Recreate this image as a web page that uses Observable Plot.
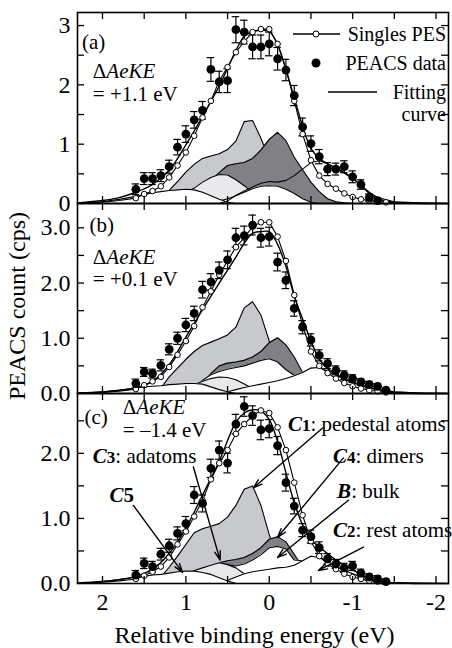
<!DOCTYPE html>
<html><head><meta charset="utf-8">
<script src="https://cdn.jsdelivr.net/npm/d3@7"></script>
<script src="https://cdn.jsdelivr.net/npm/@observablehq/plot@0.6"></script>
<style>
body{margin:0;background:#fff;}
#chart{position:relative;width:452px;height:648px;overflow:hidden;font-family:"Liberation Serif","Tinos","Times New Roman","DejaVu Serif",serif;color:#000;}
#chart svg{position:absolute;left:0;}
#ylab{position:absolute;left:17px;top:306px;transform:translate(-50%,-50%) rotate(-90deg);font-size:24px;white-space:nowrap;z-index:5;}
</style></head><body><div id="chart"><div id="ylab">PEACS count (cps)</div></div>
<script>
// ---------- shared x grids ----------
const dataX = [1.6,1.5,1.4,1.3,1.2,1.1,1.0,0.9,0.8,0.7,0.6,0.5,0.4,0.3,0.2,0.1,0.0,-0.1,-0.2,-0.3,-0.4,-0.5,-0.6,-0.7,-0.8,-0.9,-1.0,-1.1,-1.2,-1.3,-1.4];
const compX = [2.3,2.0,1.8,1.6,1.5,1.4,1.3,1.2,1.1,1.0,0.9,0.8,0.7,0.6,0.5,0.4,0.3,0.2,0.1,0.0,-0.1,-0.2,-0.3,-0.4,-0.5,-0.6,-0.7,-0.8,-0.9,-1.0,-1.1,-1.2,-1.3,-1.5,-1.8,-2.15];
const fitX = [2.3,2.0,1.8,1.6,1.4,1.2,1.0,0.8,0.6,0.4,0.3,0.2,0.1,0.0,-0.1,-0.2,-0.3,-0.4,-0.5,-0.6,-0.7,-0.8,-0.9,-1.0,-1.1,-1.2,-1.3,-1.5,-1.8,-2.15];
const tailLX = [2.3,2.0,1.8];
const tailRX = [-1.6,-2.15];
const xTickVals = [2,1,0,-1,-2];
const xMinor = [2,1.5,1,0.5,0,-0.5,-1,-1.5,-2];

// ---------- panel (a) ----------
const aPeacs = [0.24,0.42,0.42,0.47,0.62,0.95,1.17,1.41,1.57,2.26,2.05,2.07,2.93,2.89,2.64,2.64,2.69,2.44,2.25,1.82,1.29,1.01,0.79,0.58,0.58,0.62,0.45,0.32,0.10,0.05,null];
const aErr   = [0.09,0.10,0.10,0.10,0.11,0.13,0.14,0.14,0.15,0.20,0.18,0.20,0.22,0.20,0.20,0.20,0.20,0.19,0.18,0.17,0.15,0.13,0.12,0.11,0.10,0.10,0.10,0.08,0.06,0.05,null];
const aSingles = [0.09,0.16,0.21,0.29,0.44,0.64,0.86,1.14,1.45,1.73,2.07,2.30,2.55,2.73,2.89,2.94,2.94,2.69,2.27,1.73,1.17,0.73,0.47,0.33,0.25,0.17,0.11,0.07,0.05,0.03,0.02];
const aSinglesTailL = [0.0,0.02,0.05];
const aSinglesTailR = [0.01,0.0];
const aFit = [0.01,0.05,0.10,0.19,0.32,0.56,0.99,1.47,1.98,2.58,2.82,2.90,2.92,2.90,2.68,2.26,1.78,1.30,0.93,0.76,0.67,0.60,0.52,0.43,0.30,0.17,0.08,0.02,0.0,0.0];
const aC1 = [0,0,0,0.01,0.02,0.04,0.10,0.22,0.37,0.53,0.66,0.76,0.80,0.84,0.91,1.05,1.38,1.40,1.10,0.75,0.45,0.25,0.12,0.05,0.02,0,0,0,0,0,0,0,0,0,0,0];
const aC4 = [0,0,0,0,0,0,0,0.02,0.05,0.10,0.18,0.28,0.40,0.52,0.64,0.67,0.69,0.76,0.90,1.08,1.20,1.06,0.78,0.57,0.36,0.20,0.08,0.03,0.01,0,0,0,0,0,0,0];
const aB  = [0,0,0,0,0,0,0,0,0,0,0,0,0.01,0.04,0.08,0.13,0.19,0.25,0.29,0.30,0.29,0.24,0.17,0.08,0.02,0,0,0,0,0,0,0,0,0,0,0];
const aC3 = [0,0,0,0,0,0.01,0.03,0.06,0.11,0.18,0.26,0.36,0.44,0.49,0.48,0.40,0.30,0.18,0.06,0.01,0,0,0,0,0,0,0,0,0,0,0,0,0,0,0,0];
const aC5 = [0,0.03,0.07,0.12,0.15,0.18,0.20,0.22,0.23,0.24,0.23,0.19,0.13,0.07,0.02,0,0,0,0,0,0,0,0,0,0,0,0,0,0,0,0,0,0,0,0,0];
const aC2 = [0,0,0,0,0,0,0,0,0,0,0,0,0,0,0.04,0.14,0.21,0.28,0.34,0.37,0.36,0.39,0.47,0.58,0.69,0.72,0.67,0.59,0.51,0.42,0.31,0.19,0.10,0.03,0.01,0];

// ---------- panel (b) ----------
const bPeacs = [0.18,0.39,0.36,0.51,0.80,1.00,1.24,1.45,1.88,2.02,2.23,2.42,2.82,2.86,3.05,2.82,2.84,2.38,2.05,1.54,1.20,0.97,0.69,0.54,0.42,0.33,0.27,0.21,0.16,0.13,0.06];
const bErr   = [0.08,0.08,0.08,0.10,0.10,0.11,0.12,0.13,0.15,0.15,0.15,0.16,0.17,0.17,0.18,0.17,0.17,0.16,0.15,0.14,0.12,0.11,0.10,0.09,0.08,0.08,0.07,0.06,0.06,0.05,0.04];
const bSingles = [0.08,0.15,0.22,0.30,0.48,0.70,0.95,1.22,1.56,1.85,2.15,2.40,2.65,2.82,3.02,3.10,3.10,2.84,2.40,1.78,1.24,0.76,0.50,0.37,0.27,0.19,0.13,0.09,0.06,0.04,0.02];
const bSinglesTailL = [0.0,0.02,0.04];
const bSinglesTailR = [0.01,0.0];
const bFit = [0.01,0.03,0.06,0.10,0.22,0.52,1.02,1.52,2.00,2.47,2.72,2.90,2.93,2.93,2.70,2.30,1.76,1.35,0.95,0.62,0.45,0.35,0.27,0.20,0.15,0.11,0.07,0.02,0.0,0.0];
const bC1 = [0,0,0,0,0.01,0.04,0.10,0.30,0.46,0.62,0.76,0.87,0.93,0.99,1.06,1.20,1.55,1.66,1.42,0.95,0.55,0.28,0.12,0.04,0.01,0,0,0,0,0,0,0,0,0,0,0];
const bC4 = [0,0,0,0,0,0,0,0,0.01,0.04,0.10,0.20,0.36,0.50,0.55,0.57,0.60,0.66,0.76,0.92,1.01,0.88,0.66,0.38,0.15,0.04,0,0,0,0,0,0,0,0,0,0];
const bB  = [0,0,0,0,0,0,0,0,0,0.02,0.10,0.24,0.34,0.40,0.44,0.47,0.50,0.55,0.60,0.63,0.57,0.43,0.33,0.38,0.46,0.47,0.40,0.33,0.26,0.20,0.14,0.10,0.07,0.03,0.01,0];
const bC3 = [0,0,0,0,0,0,0,0.02,0.05,0.10,0.16,0.22,0.27,0.30,0.29,0.25,0.17,0.09,0.03,0,0,0,0,0,0,0,0,0,0,0,0,0,0,0,0,0];
const bC5 = [0,0.03,0.06,0.10,0.12,0.13,0.14,0.16,0.17,0.18,0.18,0.17,0.12,0.07,0.03,0,0,0,0,0,0,0,0,0,0,0,0,0,0,0,0,0,0,0,0,0];
const bC2 = [0,0,0,0,0,0,0,0,0,0,0,0,0,0.01,0.03,0.07,0.11,0.14,0.17,0.20,0.23,0.27,0.32,0.38,0.46,0.47,0.40,0.33,0.26,0.20,0.14,0.10,0.07,0.03,0.01,0];

// ---------- panel (c) ----------
const cPeacs = [0.13,0.31,0.26,0.45,0.58,0.77,0.92,1.36,1.23,1.77,2.05,1.85,2.45,2.72,2.58,2.36,2.38,2.12,1.55,1.19,0.82,0.72,0.55,0.38,0.30,0.24,0.27,0.16,0.10,0.07,0.03];
const cErr   = [0.07,0.08,0.08,0.09,0.10,0.10,0.11,0.13,0.13,0.14,0.14,0.15,0.15,0.15,0.15,0.15,0.14,0.14,0.13,0.12,0.10,0.10,0.09,0.08,0.07,0.07,0.07,0.06,0.05,0.05,0.04];
const cSingles = [0.07,0.12,0.18,0.26,0.40,0.60,0.80,1.03,1.28,1.60,1.85,2.05,2.30,2.45,2.58,2.66,2.62,2.40,2.05,1.55,1.05,0.65,0.42,0.30,0.22,0.15,0.10,0.07,0.04,0.03,0.02];
const cSinglesTailL = [0.0,0.02,0.04];
const cSinglesTailR = [0.01,0.0];
const cFit = [0.01,0.03,0.06,0.11,0.22,0.46,0.85,1.36,1.88,2.48,2.62,2.67,2.65,2.52,2.18,1.70,1.24,0.90,0.68,0.56,0.46,0.36,0.28,0.21,0.14,0.08,0.04,0.01,0.0,0.0];
const cC1 = [0,0,0,0,0,0.02,0.10,0.25,0.42,0.60,0.78,0.84,0.88,0.92,1.02,1.20,1.45,1.50,1.20,0.75,0.40,0.20,0.08,0.02,0,0,0,0,0,0,0,0,0,0,0,0];
const cC4 = [0,0,0,0,0,0,0,0,0,0.02,0.06,0.12,0.20,0.32,0.35,0.37,0.40,0.46,0.55,0.68,0.72,0.64,0.45,0.25,0.10,0.02,0,0,0,0,0,0,0,0,0,0];
const cB  = [0,0,0,0,0,0,0,0,0,0,0.04,0.10,0.20,0.31,0.29,0.27,0.30,0.36,0.44,0.55,0.57,0.53,0.36,0.35,0.42,0.40,0.33,0.26,0.20,0.15,0.10,0.06,0.03,0.01,0,0];
const cC3 = [0,0,0,0,0,0,0,0.03,0.08,0.14,0.20,0.24,0.28,0.32,0.29,0.24,0.15,0.07,0.02,0,0,0,0,0,0,0,0,0,0,0,0,0,0,0,0,0];
const cC5 = [0,0.03,0.06,0.10,0.11,0.13,0.14,0.16,0.18,0.19,0.19,0.17,0.14,0.09,0.04,0,0,0,0,0,0,0,0,0,0,0,0,0,0,0,0,0,0,0,0,0];
const cC2 = [0,0,0,0,0,0,0,0,0,0,0,0,0,0,0.05,0.10,0.15,0.18,0.20,0.22,0.24,0.25,0.28,0.35,0.42,0.40,0.33,0.26,0.20,0.15,0.10,0.06,0.03,0.01,0,0];

// ---------- annotations for panel (c) ----------
const arrowX1 = [-0.64,-0.89,-0.95,-1.13,0.91,1.63];
const arrowY1 = [2.39,1.93,1.28,0.56,1.79,1.20];
const arrowX2 = [0.19,-0.10,-0.10,-0.59,0.59,1.04];
const arrowY2 = [1.47,0.71,0.40,0.20,0.36,0.17];
const labelSym = ["C","C","B","C","C","C"];
const labelNum = ["1","4","","2","3","5"];
const labelRest = [": pedestal atoms",": dimers",": bulk",": rest atoms",": adatoms",""];
const labelX = [-0.23,-0.77,-0.82,-0.77,2.11,1.91];
const labelY = [2.34,1.85,1.31,0.70,1.85,1.24];

const panelLetters = ["(a)","(b)","(c)"];
const deltaValues = ["= +1.1 eV","= +0.1 eV","= \u20131.4 eV"];

// ---------- layout ----------
const W = 452, ML = 77, MR = 4;
const xDomain = [2.3,-2.15];
const fills = {C1:"#c8c9cc", C4:"#818185", C3:"#e9e9eb", B:"#ffffff", C5:"#ffffff", C2:"#ffffff"};
const chart = document.getElementById("chart");
const FONT = "\"Liberation Serif\", Tinos, \"Times New Roman\", \"DejaVu Serif\", serif";

function rich(sel, x, y, parts, size, anchor){
  const t = sel.append("text").attr("x",x).attr("y",y).attr("font-size",size).attr("fill","black")
    .attr("text-anchor", anchor || "start").style("font-family", FONT);
  for (const p of parts){
    const s = t.append("tspan").text(p.t);
    if (p.i) s.attr("font-style","italic");
    if (p.b) s.attr("font-weight","bold");
    if (p.s) s.attr("font-size",p.s);
  }
  return t;
}

function makePanel(cfg){
  const {top,height,mt,mb,ymax,yTicks,yFmt,yMinor,showX} = cfg;
  const plotH = height - mt - mb;
  const tx = 7/(W-ML-MR)*(xDomain[0]-xDomain[1]);
  const ty = 7/plotH*ymax;
  const capW = 0.045;
  const marks = [];
  for (const [name, filled] of cfg.order){
    const rows = compX.map((x,i)=>({x, y: cfg.comps[name][i]}));
    if (filled) marks.push(Plot.areaY(rows,{x:"x",y:"y",fill:fills[name]}));
    marks.push(Plot.line(rows,{x:"x",y:"y",stroke:"black",strokeWidth:1.1}));
  }
  const sRows = [
    ...tailLX.map((x,i)=>({x,y:cfg.tailL[i]})),
    ...dataX.map((x,i)=>({x,y:cfg.singles[i]})),
    ...tailRX.map((x,i)=>({x,y:cfg.tailR[i]}))
  ];
  const sDots = dataX.map((x,i)=>({x,y:cfg.singles[i]}));
  const pRows = dataX.map((x,i)=>({x,y:cfg.peacs[i],e:cfg.err[i]})).filter(d=>d.y!=null);
  const fRows = fitX.map((x,i)=>({x,y:cfg.fit[i]}));
  marks.push(
    Plot.line(sRows,{x:"x",y:"y",stroke:"black",strokeWidth:1.1}),
    Plot.line(fRows,{x:"x",y:"y",stroke:"black",strokeWidth:1.4,curve:"catmull-rom"}),
    Plot.ruleX(pRows,{x:"x",y1:d=>d.y-d.e,y2:d=>d.y+d.e,stroke:"black",strokeWidth:1.2}),
    Plot.ruleY(pRows,{y:d=>d.y+d.e,x1:d=>d.x+capW,x2:d=>d.x-capW,stroke:"black",strokeWidth:1.2}),
    Plot.ruleY(pRows,{y:d=>d.y-d.e,x1:d=>d.x+capW,x2:d=>d.x-capW,stroke:"black",strokeWidth:1.2}),
    Plot.dot(sDots,{x:"x",y:"y",r:2.8,fill:"white",stroke:"black",strokeWidth:1}),
    Plot.dot(pRows,{x:"x",y:"y",r:4.4,fill:"black"}),
    Plot.ruleX(xMinor,{x:d=>d,y1:0,y2:ty,stroke:"black",strokeWidth:1.3}),
    Plot.ruleX(xMinor,{x:d=>d,y1:ymax-ty,y2:ymax,stroke:"black",strokeWidth:1.3}),
    Plot.ruleY(yMinor,{y:d=>d,x1:xDomain[0],x2:xDomain[0]-tx,stroke:"black",strokeWidth:1.3}),
    Plot.ruleY(yMinor,{y:d=>d,x1:xDomain[1]+tx,x2:xDomain[1],stroke:"black",strokeWidth:1.3})
  );
  if (cfg.arrows){
    const aRows = arrowX1.map((x,i)=>({x1:x,y1:arrowY1[i],x2:arrowX2[i],y2:arrowY2[i]}));
    marks.push(Plot.arrow(aRows,{x1:"x1",y1:"y1",x2:"x2",y2:"y2",stroke:"black",strokeWidth:1.4,headLength:10,headAngle:35}));
  }
  marks.push(Plot.frame({stroke:"black",strokeWidth:1.6}));
  const svg = Plot.plot({
    width: W, height, marginLeft: ML, marginRight: MR, marginTop: mt, marginBottom: mb,
    style: {fontFamily: FONT, fontSize: "24px", background: "transparent", overflow: "visible", color: "black"},
    x: showX ? {domain:xDomain, ticks:xTickVals, tickFormat:d=> d<0 ? "-"+Math.abs(d) : String(d), tickSize:0, tickPadding:9, label:null}
             : {domain:xDomain, axis:null},
    y: {domain:[0,ymax], ticks:yTicks, tickFormat:yFmt, tickSize:0, tickPadding:7, label:null},
    marks
  });
  svg.style.top = top + "px";
  chart.appendChild(svg);
  d3.select(svg).selectAll("text").style("font-family", FONT);
  const sx = d3.scaleLinear(xDomain,[ML, W-MR]);
  const sy = d3.scaleLinear([0,ymax],[height-mb, mt]);
  const g = d3.select(svg).append("g");
  rich(g, sx(cfg.letterPos[0]), sy(cfg.letterPos[1]), [{t:cfg.letter}], 21);
  rich(g, sx(cfg.deltaPos[0]), sy(cfg.deltaPos[1]), [{t:"\u0394"},{t:"AeKE",i:true}], 21);
  rich(g, sx(cfg.deltaPos[0]), sy(cfg.deltaPos[2]), [{t:cfg.delta}], 21);
  return {svg, g, sx, sy};
}

const pa = makePanel({
  top:0, height:217, mt:12, mb:14, ymax:3.22, yTicks:[0,1,2,3], yFmt:d=>String(d), yMinor:[0.5,1,1.5,2,2.5,3],
  showX:false, comps:{C1:aC1,C4:aC4,B:aB,C3:aC3,C5:aC5,C2:aC2},
  order:[["C1",1],["C4",1],["C3",1],["B",1],["C5",1],["C2",0]],
  singles:aSingles, tailL:aSinglesTailL, tailR:aSinglesTailR, peacs:aPeacs, err:aErr, fit:aFit,
  letter:panelLetters[0], letterPos:[2.24,2.6], deltaPos:[2.11,2.11,1.72], delta:deltaValues[0]
});
const pb = makePanel({
  top:189, height:218, mt:14, mb:14, ymax:3.44, yTicks:[0,1,2,3], yFmt:d=>d.toFixed(1), yMinor:[0.5,1,1.5,2,2.5,3],
  showX:false, comps:{C1:bC1,C4:bC4,B:bB,C3:bC3,C5:bC5,C2:bC2},
  order:[["C1",1],["C4",1],["B",1],["C3",1],["C2",1],["C5",1]],
  singles:bSingles, tailL:bSinglesTailL, tailR:bSinglesTailR, peacs:bPeacs, err:bErr, fit:bFit,
  letter:panelLetters[1], letterPos:[2.15,2.92], deltaPos:[2.11,2.34,1.93], delta:deltaValues[1]
});
const pc = makePanel({
  top:379, height:269, mt:14, mb:65, ymax:2.92, yTicks:[0,1,2], yFmt:d=>d.toFixed(1), yMinor:[0.5,1,1.5,2,2.5],
  showX:true, arrows:true, comps:{C1:cC1,C4:cC4,B:cB,C3:cC3,C5:cC5,C2:cC2},
  order:[["C1",1],["C4",1],["B",1],["C3",1],["C2",1],["C5",1]],
  singles:cSingles, tailL:cSinglesTailL, tailR:cSinglesTailR, peacs:cPeacs, err:cErr, fit:cFit,
  letter:panelLetters[2], letterPos:[2.21,2.44], deltaPos:[1.75,2.60,2.24], delta:deltaValues[2]
});

// component labels in (c)
labelX.forEach((x,i)=>{
  const parts = [{t:labelSym[i],i:true,b:true}];
  if (labelNum[i]) parts.push({t:labelNum[i],b:true,s:(i===5?21:17)});
  if (labelRest[i]) parts.push({t:labelRest[i]});
  rich(pc.g, pc.sx(x), pc.sy(labelY[i]), parts, 21);
});
// x axis title
rich(d3.select(pc.svg), (ML + W - MR)/2 - 8, 269-5, [{t:"Relative binding energy (eV)"}], 24, "middle");

// legend in (a)
const lg = pa.g.append("g");
lg.append("line").attr("x1",293).attr("x2",340).attr("y1",34).attr("y2",34).attr("stroke","black").attr("stroke-width",1.4);
lg.append("circle").attr("cx",316).attr("cy",34).attr("r",3).attr("fill","white").attr("stroke","black");
rich(lg, 446, 41, [{t:"Singles PES"}], 20, "end");
lg.append("circle").attr("cx",316).attr("cy",63).attr("r",4.5).attr("fill","black");
rich(lg, 446, 70, [{t:"PEACS data"}], 20, "end");
lg.append("line").attr("x1",328).attr("x2",377).attr("y1",92).attr("y2",92).attr("stroke","black").attr("stroke-width",1.4);
rich(lg, 446, 99, [{t:"Fitting"}], 20, "end");
rich(lg, 446, 121, [{t:"curve"}], 20, "end");
</script></body></html>
